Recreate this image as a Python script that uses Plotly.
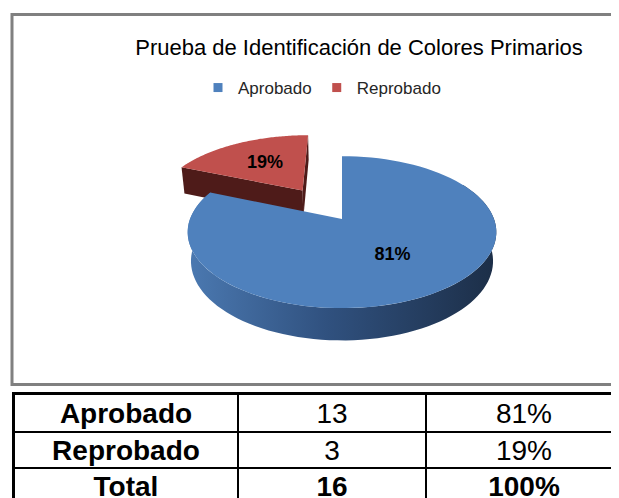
import math

import plotly.graph_objects as go

# data
labels = ["Aprobado", "Reprobado"]
counts = [13, 3]
pct_labels = ["81%", "19%"]
top_colors = ["#4F81BD", "#C0504D"]
pull = [0, 0.5]

table_labels = ["Aprobado", "Reprobado", "Total"]
table_counts = ["13", "3", "16"]
table_pct = ["81%", "19%", "100%"]

W, H = 619, 498
OFF = 8  # page body margin, axes are set up so 1 unit == 1 screen pixel

# fake 3d pie projection (pixel coords)
CX, CY, S = 342, 219, 152
ALPHA = math.radians(29)
D = 5.05
DEPTH = 0.22

# table grid (pixel coords)
COL_EDGES = [14, 238, 426, 621]
ROW_EDGES = [394, 432, 468, 504]


def proj(X, Y, Z):
    vy = Y * math.cos(ALPHA) + Z * math.sin(ALPHA)
    vz = Z * math.cos(ALPHA) - Y * math.sin(ALPHA)
    s = D / (D + vz)
    return CX + S * X * s, CY - S * vy * s


def arc(t0, t1, ox, oz, Y, n=90):
    pts = []
    for i in range(n + 1):
        t = math.radians(t0 + (t1 - t0) * i / n)
        pts.append(proj(ox + math.sin(t), Y, oz + math.cos(t)))
    return pts


def poly(pts):
    return [p[0] for p in pts] + [pts[0][0]], [p[1] for p in pts] + [pts[0][1]]


def px(sx):
    return (sx - OFF) / W


def py(sy):
    return 1 - (sy - OFF) / H


total = sum(counts)
angles = []
acc = 0
for c in counts:
    angles.append((acc / total * 360, (acc + c) / total * 360))
    acc += c

fig = go.Figure()

slices = []
for i, (a0, a1) in enumerate(angles):
    mid = math.radians((a0 + a1) / 2)
    ox, oz = pull[i] * math.sin(mid), pull[i] * math.cos(mid)
    slices.append((a0, a1, ox, oz, mid))

# red slice (exploded, far side) drawn first
a0, a1, ox, oz, mid = slices[1]
for ang in [a1, a0]:
    t = math.radians(ang)
    rim = (ox + math.sin(t), oz + math.cos(t))
    pts = [proj(ox, 0, oz), proj(rim[0], 0, rim[1]),
           proj(rim[0], -DEPTH, rim[1]), proj(ox, -DEPTH, oz)]
    x, y = poly(pts)
    fig.add_trace(go.Scatter(x=x, y=y, mode="none", fill="toself", fillcolor="#4e1b19",
                             showlegend=False, hoverinfo="skip"))
x, y = poly([proj(ox, 0, oz)] + arc(a0, a1, ox, oz, 0))
fig.add_trace(go.Scatter(x=x, y=y, mode="none", fill="toself", fillcolor=top_colors[1],
                         showlegend=False, hoverinfo="skip"))

# blue slice: side wall then top
a0, a1, ox, oz, mid = slices[0]
w0 = max(a0, 60)
wall = arc(w0, a1, ox, oz, 0) + arc(a1, w0, ox, oz, -DEPTH)
x, y = poly(wall)
fig.add_trace(go.Scatter(x=x, y=y, mode="none", fill="toself",
                         fillgradient=dict(type="horizontal",
                                           colorscale=[[0, "#4b79b1"], [0.45, "#30517f"], [1, "#1c2e47"]]),
                         showlegend=False, hoverinfo="skip"))
x, y = poly([proj(ox, 0, oz)] + arc(a0, a1, ox, oz, 0))
fig.add_trace(go.Scatter(x=x, y=y, mode="none", fill="toself", fillcolor=top_colors[0],
                         showlegend=False, hoverinfo="skip"))

# data labels
lx, ly = [], []
for a0, a1, ox, oz, mid in slices:
    lx_, ly_ = proj(ox + 0.55 * math.sin(mid), 0, oz + 0.55 * math.cos(mid))
    lx.append(lx_)
    ly.append(ly_)
fig.add_trace(go.Scatter(x=lx, y=ly, mode="text", text=["<b>%s</b>" % t for t in pct_labels],
                         textfont=dict(family="Liberation Sans", size=18, color="black"),
                         showlegend=False, hoverinfo="skip"))

# legend entries
for name, col in zip(labels, top_colors):
    fig.add_trace(go.Scatter(x=[None], y=[None], mode="markers", name=name,
                             marker=dict(symbol="square", size=9, color=col)))

# table below chart: white heatmap bricks on a black backing, gaps = grid lines
cell_text = []
for i in range(len(table_labels)):
    row = ["<b>%s</b>" % table_labels[i], table_counts[i], table_pct[i]]
    if i == len(table_labels) - 1:
        row = ["<b>%s</b>" % v for v in [table_labels[i], table_counts[i], table_pct[i]]]
    cell_text.append(row)

fig.add_shape(type="rect", xref="x", yref="y", x0=COL_EDGES[0] - 2, x1=COL_EDGES[-1] + 2,
              y0=ROW_EDGES[0] - 2, y1=ROW_EDGES[-1] + 2,
              fillcolor="black", line=dict(width=0), layer="below")
fig.add_trace(go.Heatmap(
    x=COL_EDGES, y=ROW_EDGES,
    z=[[0] * len(COL_EDGES[:-1]) for _ in ROW_EDGES[:-1]],
    colorscale=[[0, "white"], [1, "white"]], showscale=False,
    xgap=2, ygap=2,
    text=cell_text, texttemplate="%{text}",
    textfont=dict(family="Liberation Sans", size=28, color="black"),
    hoverinfo="skip",
))

fig.add_shape(type="rect", xref="x", yref="y", x0=12, x1=660, y0=14.5, y1=384.5,
              line=dict(color="#808080", width=3), layer="above")

fig.update_layout(
    width=W, height=H,
    margin=dict(l=0, r=0, t=0, b=0),
    paper_bgcolor="white", plot_bgcolor="white",
    title=dict(text="Prueba de Identificación de Colores Primarios",
               x=px(359), y=py(47), xanchor="center", yanchor="middle",
               font=dict(family="Liberation Sans", size=22, color="black")),
    legend=dict(orientation="h", x=px(322), xanchor="center", y=py(88), yanchor="middle",
                font=dict(family="Liberation Sans", size=17, color="#262626"),
                itemwidth=30, bgcolor="rgba(0,0,0,0)"),
    xaxis=dict(range=[OFF, W + OFF], visible=False, fixedrange=True),
    yaxis=dict(range=[H + OFF, OFF], visible=False, fixedrange=True),
)

fig.write_html("out.html")
